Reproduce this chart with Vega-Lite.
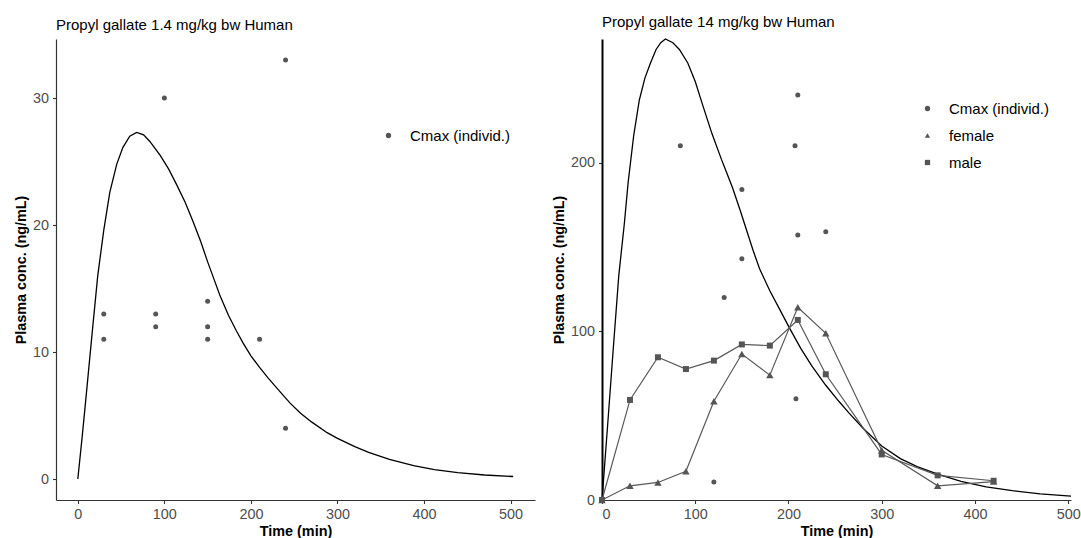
{
  "$schema": "https://vega.github.io/schema/vega-lite/v6.json",
  "padding": {"left": 13, "top": 15, "right": 0, "bottom": 0},
  "background": "white",
  "config": {
    "font": "Liberation Sans",
    "view": {"stroke": null},
    "axis": {
      "grid": false,
      "domainColor": "#333333",
      "domainWidth": 1.2,
      "tickColor": "#333333",
      "tickWidth": 1.1,
      "tickSize": 3.5,
      "labelColor": "#4d4d4d",
      "labelFontSize": 14.4,
      "labelFont": "Liberation Sans",
      "labelPadding": 4,
      "titleFont": "Liberation Sans",
      "titleFontSize": 14.4,
      "titleFontWeight": "bold",
      "titleColor": "#000000"
    },
    "title": {"fontSize": 15, "fontWeight": "normal", "anchor": "start", "frame": "group", "color": "#000000", "offset": 6, "font": "Liberation Sans"},
    "legend": {
      "labelFontSize": 15,
      "labelColor": "#000000",
      "labelFont": "Liberation Sans",
      "symbolSize": 28,
      "symbolFillColor": "#555555",
      "symbolStrokeColor": "#555555",
      "symbolStrokeWidth": 0,
      "rowPadding": 11,
      "labelOffset": 14,
      "padding": 0
    }
  },
  "datasets": {
    "curve_low": [
      {"t": 0, "c": 0}, {"t": 5, "c": 3.3}, {"t": 9, "c": 6.1}, {"t": 16, "c": 11.1}, {"t": 23, "c": 16.0},
      {"t": 30, "c": 19.6}, {"t": 37, "c": 22.6}, {"t": 45, "c": 24.8}, {"t": 52, "c": 26.1}, {"t": 60, "c": 27.0},
      {"t": 68, "c": 27.3}, {"t": 76, "c": 27.1}, {"t": 83, "c": 26.6}, {"t": 95, "c": 25.5}, {"t": 105, "c": 24.4},
      {"t": 114, "c": 23.2}, {"t": 124, "c": 21.8}, {"t": 133, "c": 20.3}, {"t": 142, "c": 18.7}, {"t": 150, "c": 17.1},
      {"t": 157, "c": 15.8}, {"t": 164, "c": 14.5}, {"t": 174, "c": 12.9}, {"t": 183, "c": 11.7}, {"t": 191, "c": 10.7},
      {"t": 200, "c": 9.7}, {"t": 210, "c": 8.8}, {"t": 220, "c": 7.95}, {"t": 232, "c": 7.0}, {"t": 245, "c": 6.0},
      {"t": 257, "c": 5.2}, {"t": 270, "c": 4.5}, {"t": 288, "c": 3.65}, {"t": 300, "c": 3.2}, {"t": 320, "c": 2.55},
      {"t": 336, "c": 2.1}, {"t": 360, "c": 1.55}, {"t": 388, "c": 1.05}, {"t": 412, "c": 0.75}, {"t": 439, "c": 0.5},
      {"t": 470, "c": 0.32}, {"t": 503, "c": 0.2}
    ],
    "cmax_low": [
      {"t": 30, "c": 13, "series": "Cmax (individ.)"}, {"t": 30, "c": 11, "series": "Cmax (individ.)"},
      {"t": 90, "c": 13, "series": "Cmax (individ.)"}, {"t": 90, "c": 12, "series": "Cmax (individ.)"},
      {"t": 100, "c": 30, "series": "Cmax (individ.)"}, {"t": 150, "c": 14, "series": "Cmax (individ.)"},
      {"t": 150, "c": 12, "series": "Cmax (individ.)"}, {"t": 150, "c": 11, "series": "Cmax (individ.)"},
      {"t": 210, "c": 11, "series": "Cmax (individ.)"}, {"t": 240, "c": 33, "series": "Cmax (individ.)"},
      {"t": 240, "c": 4, "series": "Cmax (individ.)"}
    ],
    "curve_high": [
      {"t": 0, "c": 0}, {"t": 6, "c": 44}, {"t": 12, "c": 89}, {"t": 18, "c": 133}, {"t": 24, "c": 164},
      {"t": 28, "c": 188}, {"t": 34, "c": 216}, {"t": 40, "c": 237}, {"t": 46, "c": 250}, {"t": 52, "c": 259},
      {"t": 58, "c": 267}, {"t": 63, "c": 271}, {"t": 68, "c": 273.2}, {"t": 76, "c": 271}, {"t": 83, "c": 267},
      {"t": 92, "c": 259}, {"t": 100, "c": 248}, {"t": 108, "c": 234}, {"t": 118, "c": 217}, {"t": 128, "c": 202},
      {"t": 133, "c": 195}, {"t": 140, "c": 185}, {"t": 148, "c": 172}, {"t": 155, "c": 160}, {"t": 162, "c": 148},
      {"t": 169, "c": 137}, {"t": 180, "c": 124}, {"t": 191, "c": 112.5}, {"t": 201, "c": 102}, {"t": 213, "c": 90},
      {"t": 225, "c": 79.5}, {"t": 240, "c": 68}, {"t": 254, "c": 58.5}, {"t": 265, "c": 51.5}, {"t": 280, "c": 42.5},
      {"t": 300, "c": 32}, {"t": 320, "c": 24.5}, {"t": 338, "c": 19.8}, {"t": 360, "c": 15.4}, {"t": 385, "c": 11},
      {"t": 412, "c": 7.8}, {"t": 440, "c": 5.5}, {"t": 470, "c": 3.6}, {"t": 503, "c": 2.3}
    ],
    "points_high": [
      {"t": 84, "c": 210, "series": "Cmax (individ.)"}, {"t": 210, "c": 240, "series": "Cmax (individ.)"},
      {"t": 207, "c": 210, "series": "Cmax (individ.)"}, {"t": 150, "c": 184, "series": "Cmax (individ.)"},
      {"t": 210, "c": 157, "series": "Cmax (individ.)"}, {"t": 240, "c": 159, "series": "Cmax (individ.)"},
      {"t": 150, "c": 143, "series": "Cmax (individ.)"}, {"t": 131, "c": 120, "series": "Cmax (individ.)"},
      {"t": 208, "c": 60, "series": "Cmax (individ.)"}, {"t": 120, "c": 10.6, "series": "Cmax (individ.)"},
      {"t": 0, "c": 0, "series": "female"}, {"t": 30, "c": 8.4, "series": "female"}, {"t": 60, "c": 10.4, "series": "female"},
      {"t": 90, "c": 17.0, "series": "female"}, {"t": 120, "c": 58.5, "series": "female"}, {"t": 150, "c": 86.5, "series": "female"},
      {"t": 180, "c": 74.0, "series": "female"}, {"t": 210, "c": 114.2, "series": "female"}, {"t": 240, "c": 98.8, "series": "female"},
      {"t": 300, "c": 29.5, "series": "female"}, {"t": 360, "c": 8.4, "series": "female"}, {"t": 420, "c": 10.9, "series": "female"},
      {"t": 0, "c": 0, "series": "male"}, {"t": 30, "c": 59.3, "series": "male"}, {"t": 60, "c": 84.6, "series": "male"},
      {"t": 90, "c": 77.6, "series": "male"}, {"t": 120, "c": 82.6, "series": "male"}, {"t": 150, "c": 92.2, "series": "male"},
      {"t": 180, "c": 91.5, "series": "male"}, {"t": 210, "c": 106.7, "series": "male"}, {"t": 240, "c": 74.5, "series": "male"},
      {"t": 300, "c": 27.0, "series": "male"}, {"t": 360, "c": 14.6, "series": "male"}, {"t": 420, "c": 11.4, "series": "male"}
    ]
  },
  "spacing": 16,
  "hconcat": [
    {
      "width": 479,
      "height": 461,
      "title": "Propyl gallate 1.4 mg/kg bw Human",
      "layer": [
        {
          "data": {"name": "curve_low"},
          "mark": {"type": "line", "color": "#000000", "strokeWidth": 1.3},
          "encoding": {
            "x": {"field": "t", "type": "quantitative", "scale": {"domain": [-25.2, 528.2], "nice": false, "zero": false},
                  "axis": {"values": [0, 100, 200, 300, 400, 500], "title": "Time (min)"}},
            "y": {"field": "c", "type": "quantitative", "scale": {"domain": [-1.65, 34.65], "nice": false, "zero": false},
                  "axis": {"values": [0, 10, 20, 30], "title": "Plasma conc. (ng/mL)"}}
          }
        },
        {
          "data": {"name": "cmax_low"},
          "mark": {"type": "point", "filled": true, "color": "#555555", "size": 25, "opacity": 1},
          "encoding": {
            "x": {"field": "t", "type": "quantitative"},
            "y": {"field": "c", "type": "quantitative"},
            "shape": {"field": "series", "type": "nominal",
                      "scale": {"domain": ["Cmax (individ.)"], "range": ["circle"]},
                      "legend": {"title": null, "orient": "none", "legendX": 325, "legendY": 89}}
          }
        }
      ]
    },
    {
      "width": 469,
      "height": 461,
      "title": "Propyl gallate 14 mg/kg bw Human",
      "layer": [
        {
          "data": {"name": "curve_high"},
          "mark": {"type": "line", "color": "#000000", "strokeWidth": 1.3},
          "encoding": {
            "x": {"field": "t", "type": "quantitative", "scale": {"domain": [0, 503], "nice": false, "zero": false},
                  "axis": {"values": [0, 100, 200, 300, 400, 500], "title": "Time (min)"}},
            "y": {"field": "c", "type": "quantitative", "scale": {"domain": [0, 273.2], "nice": false, "zero": false},
                  "axis": {"values": [0, 100, 200], "title": "Plasma conc. (ng/mL)", "domainColor": "#000000", "domainWidth": 2}}
          }
        },
        {
          "data": {"name": "points_high"},
          "transform": [{"filter": "datum.series !== 'Cmax (individ.)'"}],
          "mark": {"type": "line", "color": "#595959", "strokeWidth": 1.2},
          "encoding": {
            "x": {"field": "t", "type": "quantitative"},
            "y": {"field": "c", "type": "quantitative"},
            "detail": {"field": "series", "type": "nominal"}
          }
        },
        {
          "data": {"name": "points_high"},
          "transform": [{"filter": "datum.series === 'Cmax (individ.)'"}],
          "mark": {"type": "point", "filled": true, "color": "#555555", "opacity": 1, "size": 25},
          "encoding": {
            "x": {"field": "t", "type": "quantitative"},
            "y": {"field": "c", "type": "quantitative"},
            "shape": {"field": "series", "type": "nominal",
                      "scale": {"domain": ["Cmax (individ.)", "female", "male"], "range": ["circle", "triangle-up", "square"]},
                      "legend": {"title": null, "orient": "none", "legendX": 318, "legendY": 62}}
          }
        },
        {
          "data": {"name": "points_high"},
          "transform": [{"filter": "datum.series === 'female'"}],
          "mark": {"type": "point", "filled": true, "color": "#555555", "opacity": 1, "size": 55},
          "encoding": {
            "x": {"field": "t", "type": "quantitative"},
            "y": {"field": "c", "type": "quantitative"},
            "shape": {"field": "series", "type": "nominal"}
          }
        },
        {
          "data": {"name": "points_high"},
          "transform": [{"filter": "datum.series === 'male'"}],
          "mark": {"type": "point", "filled": true, "color": "#555555", "opacity": 1, "size": 36},
          "encoding": {
            "x": {"field": "t", "type": "quantitative"},
            "y": {"field": "c", "type": "quantitative"},
            "shape": {"field": "series", "type": "nominal"}
          }
        }
      ]
    }
  ],
  "resolve": {"scale": {"shape": "independent", "x": "independent", "y": "independent"}, "legend": {"shape": "independent"}}
}
